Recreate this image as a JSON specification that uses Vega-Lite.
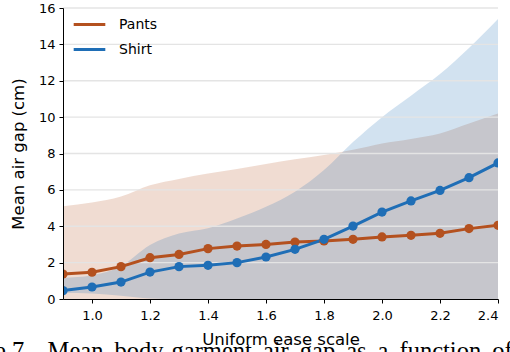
{
  "$schema": "https://vega.github.io/schema/vega-lite/v6.json",
  "width": 435,
  "height": 291,
  "autosize": {"type": "none"},
  "padding": {"left": 63, "top": 8, "right": 12, "bottom": 53},
  "background": "white",
  "config": {
    "view": {"stroke": null},
    "font": "DejaVu Sans",
    "axis": {
      "labelColor": "black",
      "labelFontSize": 13,
      "titleColor": "black",
      "titleFontSize": 16.5,
      "titleFontWeight": "normal",
      "domainColor": "black",
      "domainWidth": 1,
      "tickColor": "black",
      "tickSize": 4,
      "tickWidth": 1,
      "grid": false
    }
  },
  "title": {
    "text": "Figure 7.\u2002\u2009Mean \u2009body-garment \u2009air \u2009gap \u2009as \u2009a \u2009function \u2009of \u2009uniform \u2009ease \u2009scale",
    "orient": "bottom",
    "anchor": "start",
    "frame": "group",
    "font": "Liberation Serif",
    "fontSize": 24.5,
    "fontWeight": "normal",
    "color": "black",
    "baseline": "alphabetic",
    "dx": -121,
    "offset": 11
  },
  "data": {
    "values": [
      {"garment": "Pants", "scale": 0.9, "mean": 1.37, "lo": 0, "hi": 5.1},
      {"garment": "Pants", "scale": 1.0, "mean": 1.47, "lo": 0, "hi": 5.3},
      {"garment": "Pants", "scale": 1.1, "mean": 1.78, "lo": 0, "hi": 5.63},
      {"garment": "Pants", "scale": 1.2, "mean": 2.27, "lo": 0, "hi": 6.25},
      {"garment": "Pants", "scale": 1.3, "mean": 2.45, "lo": 0, "hi": 6.6},
      {"garment": "Pants", "scale": 1.4, "mean": 2.77, "lo": 0, "hi": 6.9},
      {"garment": "Pants", "scale": 1.5, "mean": 2.91, "lo": 0, "hi": 7.15},
      {"garment": "Pants", "scale": 1.6, "mean": 3.0, "lo": 0, "hi": 7.42},
      {"garment": "Pants", "scale": 1.7, "mean": 3.13, "lo": 0, "hi": 7.68},
      {"garment": "Pants", "scale": 1.8, "mean": 3.19, "lo": 0, "hi": 7.92},
      {"garment": "Pants", "scale": 1.9, "mean": 3.28, "lo": 0, "hi": 8.2},
      {"garment": "Pants", "scale": 2.0, "mean": 3.41, "lo": 0, "hi": 8.55},
      {"garment": "Pants", "scale": 2.1, "mean": 3.5, "lo": 0, "hi": 8.8},
      {"garment": "Pants", "scale": 2.2, "mean": 3.61, "lo": 0, "hi": 9.1},
      {"garment": "Pants", "scale": 2.3, "mean": 3.87, "lo": 0, "hi": 9.65},
      {"garment": "Pants", "scale": 2.4, "mean": 4.05, "lo": 0, "hi": 10.2},
      {"garment": "Shirt", "scale": 0.9, "mean": 0.46, "lo": 0.35, "hi": 1.15},
      {"garment": "Shirt", "scale": 1.0, "mean": 0.66, "lo": 0.3, "hi": 1.3},
      {"garment": "Shirt", "scale": 1.1, "mean": 0.93, "lo": 0.18, "hi": 1.8},
      {"garment": "Shirt", "scale": 1.2, "mean": 1.48, "lo": 0.03, "hi": 2.97},
      {"garment": "Shirt", "scale": 1.3, "mean": 1.78, "lo": 0, "hi": 3.6},
      {"garment": "Shirt", "scale": 1.4, "mean": 1.85, "lo": 0, "hi": 3.89},
      {"garment": "Shirt", "scale": 1.5, "mean": 2.0, "lo": 0, "hi": 4.43},
      {"garment": "Shirt", "scale": 1.6, "mean": 2.31, "lo": 0, "hi": 5.07},
      {"garment": "Shirt", "scale": 1.7, "mean": 2.73, "lo": 0, "hi": 5.9},
      {"garment": "Shirt", "scale": 1.8, "mean": 3.28, "lo": 0, "hi": 7.09},
      {"garment": "Shirt", "scale": 1.9, "mean": 4.01, "lo": 0, "hi": 8.63},
      {"garment": "Shirt", "scale": 2.0, "mean": 4.78, "lo": 0, "hi": 10.0},
      {"garment": "Shirt", "scale": 2.1, "mean": 5.39, "lo": 0, "hi": 11.18},
      {"garment": "Shirt", "scale": 2.2, "mean": 5.97, "lo": 0, "hi": 12.37},
      {"garment": "Shirt", "scale": 2.3, "mean": 6.67, "lo": 0, "hi": 13.8},
      {"garment": "Shirt", "scale": 2.4, "mean": 7.48, "lo": 0, "hi": 15.4}
    ]
  },
  "layer": [
    {
      "mark": {"type": "area", "opacity": 0.2, "clip": true, "interpolate": "monotone"},
      "encoding": {
        "x": {
          "field": "scale",
          "type": "quantitative",
          "scale": {"domain": [0.9, 2.4], "nice": false, "zero": false},
          "axis": {
            "title": "Uniform ease scale",
            "values": [1.0, 1.2, 1.4, 1.6, 1.8, 2.0, 2.2, 2.4],
            "format": ".1f",
            "labelPadding": 6,
            "titlePadding": 9,
            "zindex": 2
          }
        },
        "y": {
          "field": "lo",
          "type": "quantitative",
          "scale": {"domain": [0, 16], "nice": false},
          "axis": {
            "title": "Mean air gap (cm)",
            "values": [0, 2, 4, 6, 8, 10, 12, 14, 16],
            "labelOverlap": false,
            "labelPadding": 4,
            "titlePadding": 12,
            "zindex": 2
          }
        },
        "y2": {"field": "hi"},
        "color": {
          "field": "garment",
          "type": "nominal",
          "title": null,
          "scale": {"domain": ["Pants", "Shirt"], "range": ["#b4511f", "#1f6eb6"]},
          "legend": {
            "orient": "none",
            "legendX": 9,
            "legendY": -1,
            "padding": 0,
            "symbolType": "stroke",
            "symbolSize": 1000,
            "symbolStrokeWidth": 3,
            "symbolOpacity": 1,
            "labelFontSize": 14,
            "labelColor": "black",
            "labelOffset": 12,
            "rowPadding": -6
          }
        }
      }
    },
    {
      "data": {"values": [{"g": 2}, {"g": 4}, {"g": 6}, {"g": 8}, {"g": 10}, {"g": 12}, {"g": 14}, {"g": 16}]},
      "mark": {"type": "rule", "color": "#e4e4e4", "strokeWidth": 1.3},
      "encoding": {
        "y": {
          "field": "g",
          "type": "quantitative",
          "axis": {
            "title": "Mean air gap (cm)",
            "values": [0, 2, 4, 6, 8, 10, 12, 14, 16],
            "labelOverlap": false,
            "labelPadding": 4,
            "titlePadding": 12,
            "zindex": 2
          }
        }
      }
    },
    {
      "mark": {"type": "line", "strokeWidth": 3, "clip": true},
      "encoding": {
        "x": {"field": "scale", "type": "quantitative"},
        "y": {
          "field": "mean",
          "type": "quantitative",
          "axis": {
            "title": "Mean air gap (cm)",
            "values": [0, 2, 4, 6, 8, 10, 12, 14, 16],
            "labelOverlap": false,
            "labelPadding": 4,
            "titlePadding": 12,
            "zindex": 2
          }
        },
        "color": {"field": "garment", "type": "nominal", "title": null}
      }
    },
    {
      "mark": {"type": "point", "filled": true, "opacity": 1, "size": 85, "clip": true},
      "encoding": {
        "x": {"field": "scale", "type": "quantitative"},
        "y": {
          "field": "mean",
          "type": "quantitative",
          "axis": {
            "title": "Mean air gap (cm)",
            "values": [0, 2, 4, 6, 8, 10, 12, 14, 16],
            "labelOverlap": false,
            "labelPadding": 4,
            "titlePadding": 12,
            "zindex": 2
          }
        },
        "color": {"field": "garment", "type": "nominal", "title": null}
      }
    }
  ]
}
